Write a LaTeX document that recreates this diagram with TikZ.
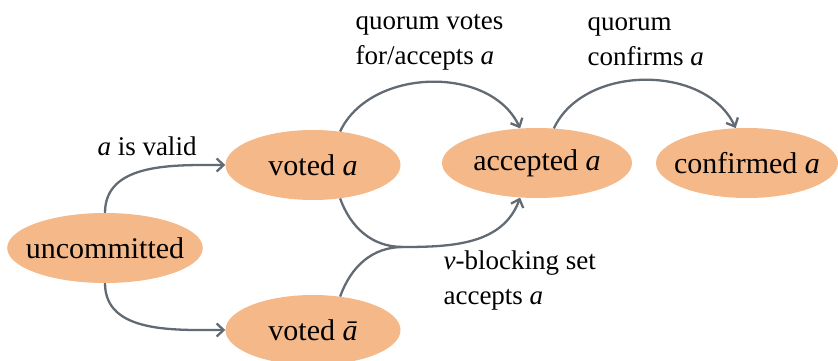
\documentclass[tikz,border=0pt]{standalone}
\usepackage{fontspec}
\setmainfont{Liberation Serif}
\usepackage{tikz}
\usetikzlibrary{shapes.geometric, positioning, arrows.meta}

\definecolor{stateorange}{RGB}{245,184,136}
\definecolor{edgegray}{RGB}{98,106,115}

\begin{document}
\begin{tikzpicture}[
    x=1pt, y=1pt,
    state/.style={ellipse, fill=stateorange, inner ysep=0pt, inner xsep=-10pt, minimum height=70pt, font=\fontsize{30}{34}\selectfont},
    lbl/.style={align=left, font=\fontsize{27}{35}\selectfont},
    trans/.style={draw=edgegray, line width=2.3pt, -{Straight Barb[length=7pt, width=13pt]}}
]
    \useasboundingbox (0,0) rectangle (838,-361);

    % --- STATES ---
    \node[state, minimum width=195pt] (uncommitted) at (105,-248) {uncommitted};
    \node[state, minimum width=175pt] (voted) at (313,-165) {voted \textit{a}};
    \node[state, minimum width=175pt] (votedbar) at (313,-330) {voted \textit{\=a}};
    \node[state, minimum width=190pt] (accepted) at (537,-163) {accepted \textit{a}};
    \node[state, minimum width=182pt] (confirmed) at (747,-163) {confirmed \textit{a}};

    \coordinate (merge) at (403,-247);

    % --- LABELS ---
    \node[lbl] (valid) at (147,-146) {\textit{a} is valid};
    \node[lbl, anchor=west] (votes) at (352,-42) {quorum votes\\for/accepts \textit{a}};
    \node[lbl, anchor=west] (confirms) at (584,-42) {quorum\\confirms \textit{a}};
    \node[lbl, anchor=west] (blocking) at (440,-281) {\textit{v}-blocking set\\accepts \textit{a}};

    % --- TRANSITIONS ---
    \draw[trans] (uncommitted.north) to[out=90, in=180] (voted.west);
    \draw[trans] (uncommitted.south) to[out=-90, in=180] (votedbar.west);
    \draw[trans] (voted.51) to[out=65, in=115] (accepted.116);
    \draw[trans] (accepted.64) to[out=65, in=115] (confirmed.108);

    % v-blocking branch (both votes merge)
    \draw[trans] (voted.-51) to[out=-70, in=180] (merge) to[out=0, in=-110] (accepted.-116);
    \draw[draw=edgegray, line width=2.3pt] (votedbar.51) to[out=70, in=180] (merge);

\end{tikzpicture}
\end{document}
